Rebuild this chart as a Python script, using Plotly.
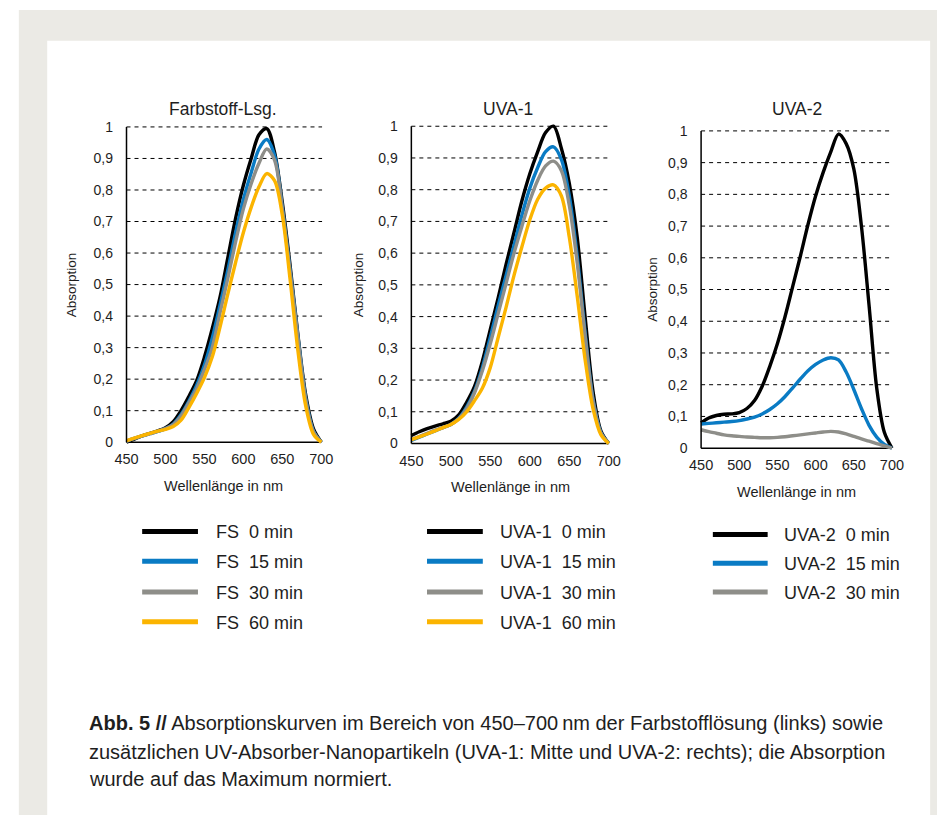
import plotly.graph_objects as go

# ---------------- data ----------------
wavelength = [450, 460, 470, 480, 490, 500, 510, 520, 530, 540, 550, 560, 570,
              580, 590, 600, 610, 620, 630, 640, 650, 660, 670, 680, 690, 700]

panel_titles = ["Farbstoff-Lsg.", "UVA-1", "UVA-2"]
series_prefix = ["FS", "UVA-1", "UVA-2"]
times = ["0 min", "15 min", "30 min", "60 min"]

fs_0 = [0.0, 0.01, 0.02, 0.028, 0.036, 0.046, 0.065, 0.1, 0.145, 0.195, 0.27, 0.36, 0.46,
        0.585, 0.71, 0.815, 0.9, 0.975, 0.995, 0.92, 0.76, 0.56, 0.34, 0.15, 0.042, 0.0]
fs_15 = [0.003, 0.012, 0.02, 0.027, 0.034, 0.043, 0.058, 0.088, 0.13, 0.18, 0.245, 0.33, 0.435,
         0.545, 0.665, 0.77, 0.855, 0.93, 0.96, 0.91, 0.745, 0.545, 0.335, 0.14, 0.035, 0.0]
fs_30 = [0.003, 0.012, 0.02, 0.027, 0.034, 0.043, 0.056, 0.083, 0.125, 0.17, 0.23, 0.3, 0.41,
         0.52, 0.635, 0.74, 0.82, 0.885, 0.93, 0.895, 0.74, 0.54, 0.33, 0.135, 0.033, 0.0]
fs_60 = [0.005, 0.013, 0.021, 0.028, 0.035, 0.041, 0.05, 0.07, 0.11, 0.155, 0.205, 0.27, 0.365,
         0.47, 0.57, 0.665, 0.745, 0.81, 0.852, 0.83, 0.72, 0.515, 0.29, 0.115, 0.025, 0.0]

uva1_0 = [0.025, 0.037, 0.047, 0.055, 0.062, 0.07, 0.09, 0.13, 0.18, 0.26, 0.36, 0.46, 0.565,
          0.665, 0.765, 0.85, 0.92, 0.98, 1.0, 0.93, 0.82, 0.65, 0.4, 0.165, 0.04, 0.0]
uva1_15 = [0.01, 0.02, 0.03, 0.04, 0.05, 0.06, 0.08, 0.115, 0.165, 0.24, 0.335, 0.435, 0.53,
           0.625, 0.72, 0.805, 0.87, 0.92, 0.935, 0.895, 0.78, 0.59, 0.35, 0.14, 0.035, 0.0]
uva1_30 = [0.012, 0.022, 0.032, 0.042, 0.05, 0.06, 0.078, 0.11, 0.16, 0.23, 0.315, 0.41, 0.505,
           0.6, 0.685, 0.765, 0.83, 0.875, 0.89, 0.86, 0.75, 0.57, 0.34, 0.135, 0.033, 0.0]
uva1_60 = [0.012, 0.021, 0.03, 0.04, 0.05, 0.06, 0.076, 0.1, 0.135, 0.175, 0.24, 0.335, 0.43,
           0.53, 0.62, 0.705, 0.77, 0.805, 0.815, 0.78, 0.65, 0.465, 0.265, 0.11, 0.028, 0.0]

uva2_0 = [0.08, 0.095, 0.103, 0.107, 0.108, 0.112, 0.125, 0.15, 0.195, 0.258, 0.33, 0.415, 0.51,
          0.605, 0.705, 0.795, 0.87, 0.935, 0.99, 0.96, 0.88, 0.7, 0.45, 0.19, 0.05, 0.0]
uva2_15 = [0.076, 0.078, 0.08, 0.082, 0.084, 0.087, 0.092, 0.098, 0.108, 0.122, 0.14, 0.163, 0.19,
           0.218, 0.244, 0.264, 0.278, 0.285, 0.278, 0.24, 0.185, 0.125, 0.072, 0.035, 0.012, 0.0]
uva2_30 = [0.058, 0.052, 0.047, 0.042, 0.039, 0.037, 0.035, 0.034, 0.033, 0.033, 0.034, 0.036, 0.039,
           0.042, 0.045, 0.048, 0.051, 0.053, 0.051, 0.045, 0.037, 0.029, 0.022, 0.014, 0.007, 0.0]

panel_series = [[fs_0, fs_15, fs_30, fs_60],
                [uva1_0, uva1_15, uva1_30, uva1_60],
                [uva2_0, uva2_15, uva2_30]]

y_tickvals = [0, 0.1, 0.2, 0.3, 0.4, 0.5, 0.6, 0.7, 0.8, 0.9, 1]
y_ticktext = ["0", "0,1", "0,2", "0,3", "0,4", "0,5", "0,6", "0,7", "0,8", "0,9", "1"]
x_tickvals = [450, 500, 550, 600, 650, 700]

caption_lines = [
    "<b>Abb. 5 //</b> Absorptionskurven im Bereich von 450\u2013700\u2009nm der Farbstofflösung (links) sowie",
    "zusätzlichen UV-Absorber-Nanopartikeln (UVA-1: Mitte und UVA-2: rechts); die Absorption",
    "wurde auf das Maximum normiert.",
]

# ---------------- style ----------------
W, H = 946, 819
FONT = "Liberation Sans, Arial, Helvetica, sans-serif"
TXT = "#1e1e1e"
colors = ["#000000", "#0a7bc4", "#8e8e89", "#fbb400"]

# pixel geometry per panel: (x450, x700, y0, y1)
geom = [(118, 317, 443, 125), (409, 610.7, 444.3, 124.3), (705, 900, 449, 129)]
XR = (448, 704)
YR = (-0.012, 1.015)
title_x = [217, 508, 803]
ytitle_x = [62, 355, 655]
legend_geo = [  # line x0, x1, text x, row y's
    (134, 191, 207, [533, 563, 594, 624]),
    (425, 482, 498, [533, 563, 594, 624]),
    (717, 773, 788, [536, 565, 594]),
]

fig = go.Figure()
layout_axes = {}
shapes = []
annotations = []

# background frame
shapes.append(dict(type="rect", xref="paper", yref="paper", layer="below",
                   x0=8 / W, x1=1, y0=0, y1=1 - 7 / H,
                   fillcolor="#ebeae5", line=dict(width=0)))
shapes.append(dict(type="rect", xref="paper", yref="paper", layer="below",
                   x0=37 / W, x1=939 / W, y0=0, y1=1 - 38 / H,
                   fillcolor="#ffffff", line=dict(width=0)))

for i, (series, title) in enumerate(zip(panel_series, panel_titles)):
    x450, x700, y0px, y1px = geom[i]
    pxnm = (x700 - x450) / 250.0
    pxu = (y0px - y1px)
    left = x450 + (XR[0] - 450) * pxnm
    right = x450 + (XR[1] - 450) * pxnm
    bottom = y0px - YR[0] * pxu
    top = y0px - YR[1] * pxu
    sfx = "" if i == 0 else str(i + 1)
    xa, ya = "x" + sfx, "y" + sfx

    for j, vals in enumerate(series):
        fig.add_trace(go.Scatter(
            x=wavelength, y=vals, mode="lines", xaxis=xa, yaxis=ya,
            line=dict(color=colors[j], width=3.4, shape="spline", smoothing=0.9),
            name=f"{series_prefix[i]} {times[j]}", showlegend=False, hoverinfo="x+y"))

    layout_axes["xaxis" + sfx] = dict(
        domain=[left / W, right / W], anchor=ya, range=list(XR),
        tickvals=x_tickvals, ticks="", showgrid=False, zeroline=False, showline=False,
        tickfont=dict(family=FONT, size=14.5, color=TXT), ticklabelstandoff=3)
    layout_axes["yaxis" + sfx] = dict(
        domain=[1 - bottom / H, 1 - top / H], anchor=xa, range=list(YR),
        tickvals=y_tickvals, ticktext=y_ticktext, ticks="", showgrid=False,
        zeroline=False, showline=False,
        tickfont=dict(family=FONT, size=14, color=TXT), ticklabelstandoff=11)

    # dashed grid lines
    for v in y_tickvals[1:]:
        shapes.append(dict(type="line", xref=xa, yref=ya, x0=450, x1=701, y0=v, y1=v,
                           line=dict(color="#000000", width=1, dash="4px,4px"), layer="below"))
    # axis lines
    shapes.append(dict(type="line", xref=xa, yref=ya, x0=450, x1=450, y0=0, y1=1,
                       line=dict(color="#000000", width=1.5)))
    shapes.append(dict(type="line", xref=xa, yref=ya, x0=450, x1=700, y0=0, y1=0,
                       line=dict(color="#000000", width=1.5), layer="below"))

    # panel title
    annotations.append(dict(text=title, xref="paper", yref="paper", x=title_x[i] / W,
                            y=1 - 107 / H, showarrow=False, xanchor="center", yanchor="middle",
                            font=dict(family=FONT, size=17.5, color=TXT)))
    # axis titles
    annotations.append(dict(text="Wellenlänge in nm", xref="paper", yref="paper",
                            x=(x450 + x700) / 2 / W, y=1 - (y0px + 44) / H, showarrow=False,
                            xanchor="center", yanchor="middle",
                            font=dict(family=FONT, size=14.5, color=TXT)))
    annotations.append(dict(text="Absorption", xref="paper", yref="paper",
                            x=ytitle_x[i] / W, y=1 - ((y0px + y1px) / 2) / H, showarrow=False,
                            textangle=-90, xanchor="center", yanchor="middle",
                            font=dict(family=FONT, size=13.5, color=TXT)))

    # legend
    lx0, lx1, tx, rows = legend_geo[i]
    for j, ry in enumerate(rows):
        shapes.append(dict(type="line", xref="paper", yref="paper",
                           x0=lx0 / W, x1=lx1 / W, y0=1 - ry / H, y1=1 - ry / H,
                           line=dict(color=colors[j], width=5)))
        annotations.append(dict(text=f"{series_prefix[i]}\u00a0\u00a0{times[j]}",
                                xref="paper", yref="paper", x=tx / W, y=1 - (ry + 1) / H,
                                showarrow=False, xanchor="left", yanchor="middle",
                                font=dict(family=FONT, size=18, color=TXT)))

# caption
for k, (line, cy) in enumerate(zip(caption_lines, [726, 755, 783])):
    annotations.append(dict(text=line, xref="paper", yref="paper", x=78 / W, y=1 - cy / H,
                            showarrow=False, xanchor="left", yanchor="middle", align="left",
                            font=dict(family=FONT, size=20, color=TXT)))

fig.update_layout(
    width=W, height=H, margin=dict(l=0, r=0, t=0, b=0),
    paper_bgcolor="#ffffff", plot_bgcolor="rgba(0,0,0,0)",
    showlegend=False, shapes=shapes, annotations=annotations,
    font=dict(family=FONT, color=TXT),
    **layout_axes)

fig.write_html("out.html", config={"displayModeBar": False},
               post_script="document.body.style.margin='0';document.body.style.overflow='hidden';")
